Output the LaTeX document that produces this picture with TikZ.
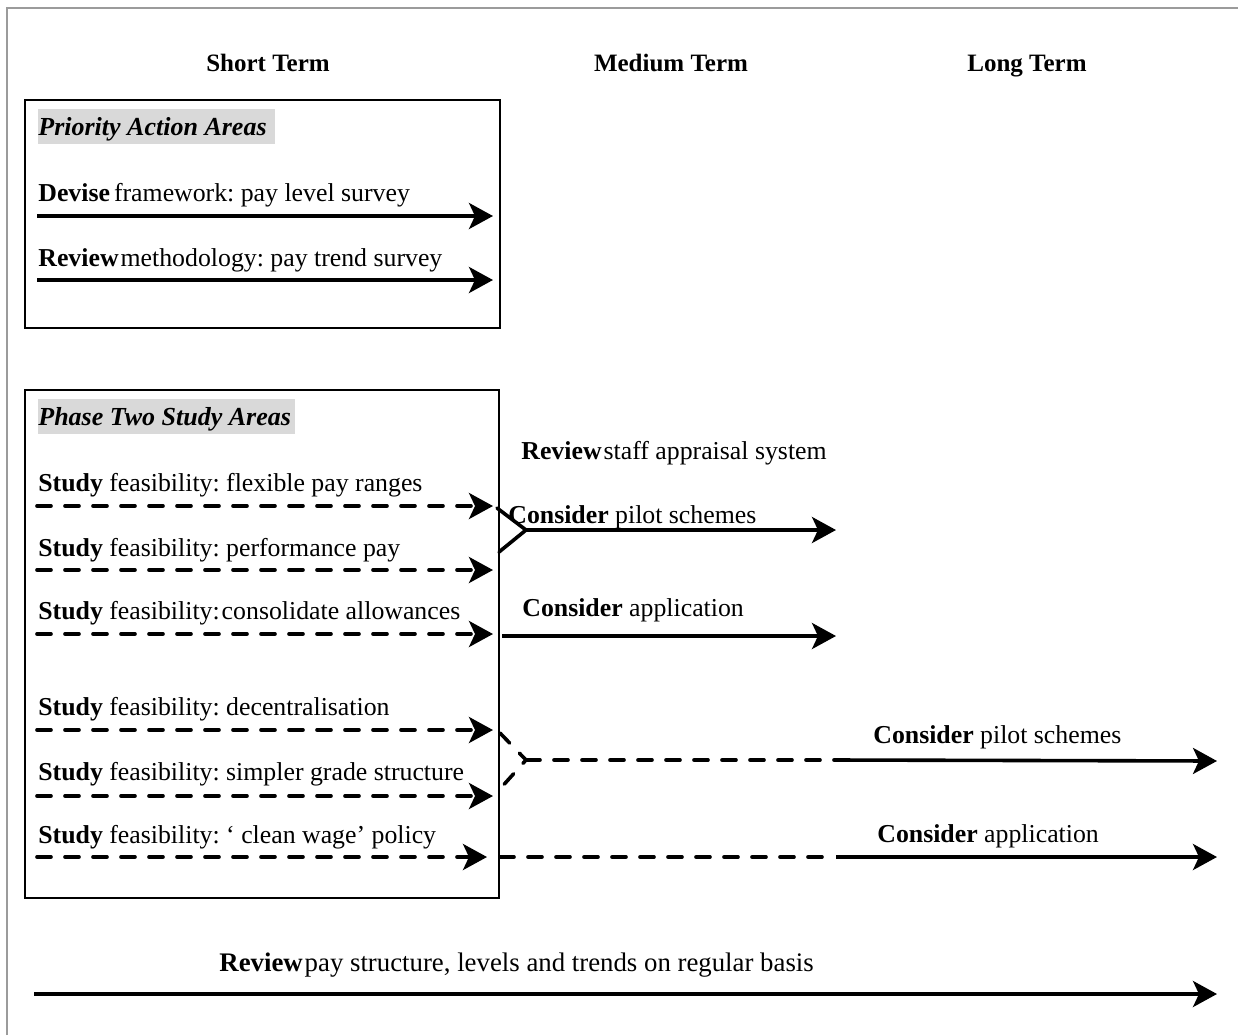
\documentclass[tikz,border=0pt]{standalone}
\usepackage{fontspec}
\setmainfont{Liberation Serif}
\usetikzlibrary{arrows.meta}
\definecolor{tagbg}{RGB}{217,217,217}
\definecolor{frame}{RGB}{155,155,155}
\frenchspacing
\begin{document}
\begin{tikzpicture}[x=0.5pt,y=-0.5pt,
  lbl/.style={anchor=base west,inner sep=0pt,font=\fontsize{12.9pt}{15pt}\selectfont},
  ttl/.style={anchor=base west,inner sep=0pt,font=\fontsize{13pt}{15pt}\selectfont\bfseries\itshape},
  hdr/.style={anchor=base,inner sep=0pt,font=\fontsize{12.5pt}{15pt}\selectfont\bfseries},
  panel/.style={draw,line width=1pt},
  flow/.style={line width=1.8pt,-{Stealth[length=12pt,width=13pt,inset=3pt]}},
  link/.style={line width=1.8pt},
  dsh/.style={dash pattern=on 7pt off 7pt,line cap=round}
]
\useasboundingbox (0,0) rectangle (1238,1035);
% outer frame lines
\draw[frame,line width=1pt] (7,1035) -- (7,8) -- (1238,8);

% headers
\node[hdr] (hs) at (268,71) {Short Term};
\node[hdr] (hm) at (671,71) {Medium Term};
\node[hdr] (hl) at (1027,71) {Long Term};

% box 1
\draw[panel] (25,100) rectangle (500,328);
\fill[tagbg] (38,109) rectangle (275,144);
\node[ttl] (t1) at (38,135) {Priority Action Areas};
\node[lbl] (a1) at (38,201) {\textbf{Devise}\hspace{2pt}framework: pay level survey};
\node[lbl] (a2) at (38,266) {\textbf{Review}\hspace{1pt}methodology: pay trend survey};
\coordinate (a1s) at (37,216); \coordinate (a1e) at (493,216);
\coordinate (a2s) at (37,280); \coordinate (a2e) at (493,280);
\draw[flow] (a1s) -- (a1e);
\draw[flow] (a2s) -- (a2e);

% box 2
\draw[panel] (25,390) rectangle (499,898);
\fill[tagbg] (38,399) rectangle (295,434);
\node[ttl] (t2) at (38,425) {Phase Two Study Areas};
\node[lbl] (s1) at (38,491) {\textbf{Study} feasibility: flexible pay ranges};
\node[lbl] (s2) at (38,556) {\textbf{Study} feasibility: performance pay};
\node[lbl] (s3) at (38,619) {\textbf{Study} feasibility:\hspace{1pt}consolidate allowances};
\node[lbl] (s4) at (38,715) {\textbf{Study} feasibility: decentralisation};
\node[lbl] (s5) at (38,780) {\textbf{Study} feasibility: simpler grade structure};
\node[lbl] (s6) at (38,843) {\textbf{Study} feasibility: ‘ clean wage’ policy};
\coordinate (s1s) at (37,506); \coordinate (s1e) at (493,506);
\coordinate (s2s) at (37,570); \coordinate (s2e) at (493,570);
\coordinate (s3s) at (37,634); \coordinate (s3e) at (493,634);
\coordinate (s4s) at (37,730); \coordinate (s4e) at (493,730);
\coordinate (s5s) at (37,796); \coordinate (s5e) at (493,796);
\coordinate (s6s) at (37,857); \coordinate (s6e) at (487,857);
\foreach \i in {1,...,6} \draw[flow,dsh] (s\i s) -- (s\i e);

% medium-term items
\node[lbl] (m0) at (521,459) {\textbf{Review}\hspace{1pt}staff appraisal system};
\node[lbl] (m1) at (508,523) {\textbf{Consider} pilot schemes};
\node[lbl] (m2) at (522,616) {\textbf{Consider} application};
\coordinate (j1a) at (497,508); \coordinate (j1b) at (499,552);
\coordinate (j1) at (526,530); \coordinate (m1e) at (836,530);
\draw[link,line cap=round] (j1a) -- (j1) -- (j1b);
\draw[flow] (j1) -- (m1e);
\coordinate (m2s) at (502,636); \coordinate (m2e) at (836,636);
\draw[flow] (m2s) -- (m2e);

% long-term items
\node[lbl] (l1) at (873,743) {\textbf{Consider} pilot schemes};
\node[lbl] (l2) at (877,842) {\textbf{Consider} application};
\coordinate (j2a) at (500,733); \coordinate (j2b) at (499,790);
\coordinate (j2) at (526,760); \coordinate (k1) at (836,760);
\coordinate (l1e) at (1217,761);
\draw[link,dsh] (j2a) -- (j2) -- (j2b);
\draw[link,dsh] (j2) -- (k1);
\draw[flow] (k1) -- (l1e);
\coordinate (d6s) at (500,857); \coordinate (k2) at (836,857);
\coordinate (l2e) at (1217,857);
\draw[link,dsh] (d6s) -- (k2);
\draw[flow] (k2) -- (l2e);

% bottom
\node[lbl,font=\fontsize{13.4pt}{15pt}\selectfont] (b0) at (219,971) {\textbf{Review}\hspace{1pt}pay structure, levels and trends on regular basis};
\coordinate (bs) at (34,994); \coordinate (be) at (1217,994);
\draw[flow] (bs) -- (be);
\end{tikzpicture}
\end{document}
